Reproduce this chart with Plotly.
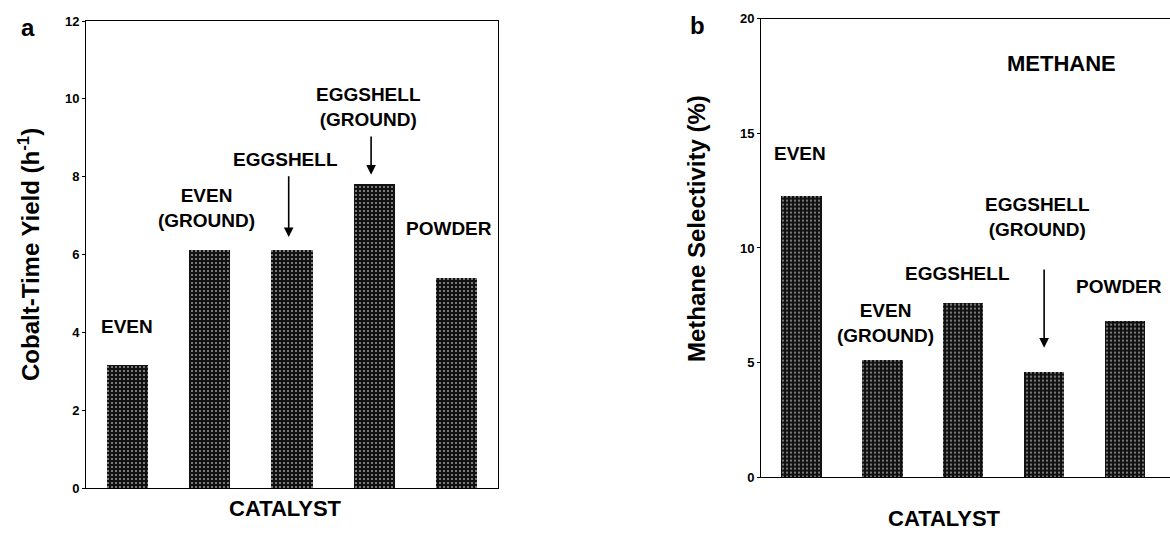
import plotly.graph_objects as go

categories = ["EVEN", "EVEN (GROUND)", "EGGSHELL", "EGGSHELL (GROUND)", "POWDER"]
yield_values = [3.16, 6.12, 6.12, 7.82, 5.39]
methane_values = [12.3, 5.15, 7.63, 4.6, 6.83]
yield_ticks = [0, 2, 4, 6, 8, 10, 12]
methane_ticks = [0, 5, 10, 15, 20]

W, H = 1170, 536
FONT = "Liberation Sans, Arial, Helvetica, sans-serif"
idx = list(range(len(categories)))

def px(x):
    return x / W

def py(y):
    return 1 - y / H

pattern = dict(shape=".", fgcolor="#9a9a9a", bgcolor="#111111", size=4, solidity=0.2)

fig = go.Figure()
fig.add_trace(go.Bar(x=idx, y=yield_values, width=0.5, xaxis="x", yaxis="y",
                     marker=dict(color="#111111", line=dict(width=0), pattern=pattern),
                     showlegend=False, hoverinfo="skip"))
fig.add_trace(go.Bar(x=idx, y=methane_values, width=0.5, xaxis="x2", yaxis="y2",
                     marker=dict(color="#111111", line=dict(width=0), pattern=pattern),
                     showlegend=False, hoverinfo="skip"))

axis_common = dict(showgrid=False, zeroline=False, linecolor="black", linewidth=1,
                   ticks="outside", ticklen=3, tickcolor="black", automargin=False,
                   tickfont=dict(family=FONT, size=13, color="black", weight="bold"))
xcommon = dict(showticklabels=False, showline=True, mirror=True, ticks="",
               showgrid=False, zeroline=False, linecolor="black", linewidth=1,
               automargin=False)

fig.update_layout(
    template="none",
    width=W, height=H, margin=dict(l=0, r=0, t=0, b=0, pad=0, autoexpand=False),
    paper_bgcolor="white", plot_bgcolor="white",
    bargap=0, showlegend=False,
    xaxis=dict(domain=[px(86), px(498)], range=[-0.5, 4.5], anchor="y", **xcommon),
    yaxis=dict(domain=[py(488), py(21)], range=[0, 12], tickvals=yield_ticks,
               showline=True, mirror=True, anchor="x", **axis_common),
    xaxis2=dict(domain=[px(761), 1.0], range=[-0.5, 4.556], anchor="y2", **xcommon),
    yaxis2=dict(domain=[py(477.3), py(18.6)], range=[0, 20], tickvals=methane_ticks,
                showline=True, mirror=False, anchor="x2", **axis_common),
)

ann = []
def label(text, x, y, xref, yref, size=19):
    ann.append(dict(text=text, x=x, y=y, xref=xref, yref=yref, showarrow=False,
                    xanchor="center", yanchor="middle",
                    font=dict(family=FONT, size=size, color="black", weight="bold")))

def arrow(x, y0, y1, xref, yref):
    ann.append(dict(text="", x=x, y=y1, ax=x, ay=y0, xref=xref, yref=yref,
                    axref=xref, ayref=yref, showarrow=True, arrowhead=2,
                    arrowsize=1.2, arrowwidth=1.6, arrowcolor="black"))

# Panel a labels
label("EVEN", 0.0, 4.14, "x", "y")
label("EVEN<br>(GROUND)", 0.96, 7.2, "x", "y")
label("EGGSHELL", 1.92, 8.45, "x", "y")
arrow(1.96, 8.05, 6.45, "x", "y")
label("EGGSHELL<br>(GROUND)", 2.93, 9.78, "x", "y")
arrow(2.96, 9.07, 8.05, "x", "y")
label("POWDER", 3.9, 6.68, "x", "y")

# Panel b labels
label("METHANE", 3.21, 18.05, "x2", "y2", size=22)
label("EVEN", -0.02, 14.13, "x2", "y2")
label("EVEN<br>(GROUND)", 1.04, 6.73, "x2", "y2")
label("EGGSHELL", 1.93, 8.87, "x2", "y2")
label("EGGSHELL<br>(GROUND)", 2.92, 11.33, "x2", "y2")
arrow(3.0, 9.13, 5.65, "x2", "y2")
label("POWDER", 3.93, 8.31, "x2", "y2")

# Axis titles and panel letters
def title(text, x, y, angle=0, size=24, bold=True):
    ann.append(dict(text=text, x=px(x), y=py(y), xref="paper", yref="paper",
                    showarrow=False, xanchor="center", yanchor="middle", textangle=angle,
                    font=dict(family=FONT, size=size, color="black",
                              weight="bold" if bold else "normal")))

title("Cobalt-Time Yield (h<sup>-1</sup>)", 29, 255, angle=-90, size=24)
title("Methane Selectivity (%)", 696, 229, angle=-90, size=24)
title("CATALYST", 285, 508, size=22)
title("CATALYST", 944, 518, size=22)
title("a", 28, 27, size=24)
title("b", 697, 25, size=24)

fig.update_layout(annotations=ann)
fig.write_html("out.html")
